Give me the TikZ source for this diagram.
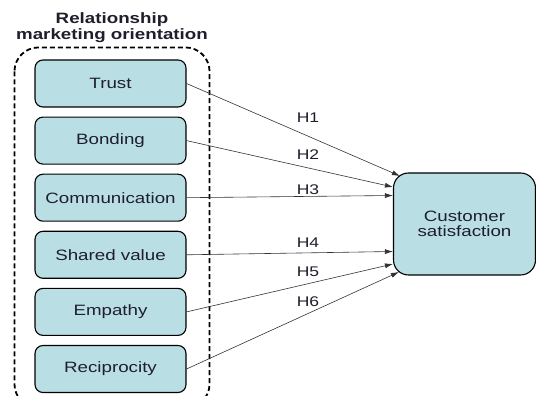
\documentclass[tikz,border=0pt]{standalone}
\usepackage{fontspec}
\setmainfont{Liberation Sans}[FakeStretch=1.25]
\usepackage{tikz}
\usetikzlibrary{positioning}
\usetikzlibrary{arrows.meta}

\definecolor{boxfill}{HTML}{B9DFE4}
\definecolor{ink}{HTML}{1E1E2C}

\begin{document}
\begin{tikzpicture}[x=1pt,y=1pt,
	node distance=9pt,
	box/.style={rectangle,draw=black,line width=1.1pt,fill=boxfill,rounded corners=8pt,
		minimum width=151pt,minimum height=47pt,text=ink,font=\fontsize{15}{15}\selectfont},
	hlab/.style={text=ink,font=\fontsize{14}{14}\selectfont,inner sep=0pt},
	arr/.style={-{Latex[length=8pt,width=5pt]},draw=black!80,line width=0.6pt}
	]
	\useasboundingbox (0,0) rectangle (536,396);
	\node [box] (trust) at (110.5,312.5)	{Trust};
	\node [box] (bonding)	[below=of trust]	{Bonding};
	\node [box] (comm)	[below=of bonding]	{Communication};
	\node [box] (shared)	[below=of comm]	{Shared value};
	\node [box] (empathy)	[below=of shared]	{Empathy};
	\node [box] (recip)	[below=of empathy]	{Reciprocity};
	\node [box,align=center,minimum width=142pt,minimum height=102pt,rounded corners=15pt] (cust) at (464.5,172) {Customer\\satisfaction};

	% dashed frame round the six factors
	\draw [dashed,line width=1.8pt,dash pattern=on 5pt off 3pt,rounded corners=24pt]
		([shift={(-20pt,12pt)}]trust.north west) rectangle ([shift={(23pt,-15pt)}]recip.south east);
	\node [align=center,text=ink,font=\bfseries\fontsize{15}{16}\selectfont] (title) at (112,368) {Relationship\\marketing orientation};

	\draw [arr] (trust.east)	to ([shift={(7pt,48pt)}]cust.west);
	\draw [arr] (bonding.east)	to ([yshift=37pt]cust.west);
	\draw [arr] (comm.east)	to ([yshift=28.5pt]cust.west);
	\draw [arr] (shared.east)	to ([yshift=-27.5pt]cust.west);
	\draw [arr] (empathy.east)	to ([yshift=-40pt]cust.west);
	\draw [arr] (recip.east)	to ([shift={(6pt,-48pt)}]cust.west);

	\node [hlab] (h1) at (308,278) {H1};
	\node [hlab] (h2) at (308,241) {H2};
	\node [hlab] (h3) at (308,206) {H3};
	\node [hlab] (h4) at (308,153) {H4};
	\node [hlab] (h5) at (308,124) {H5};
	\node [hlab] (h6) at (308,94)	{H6};

\end{tikzpicture}
\end{document}
